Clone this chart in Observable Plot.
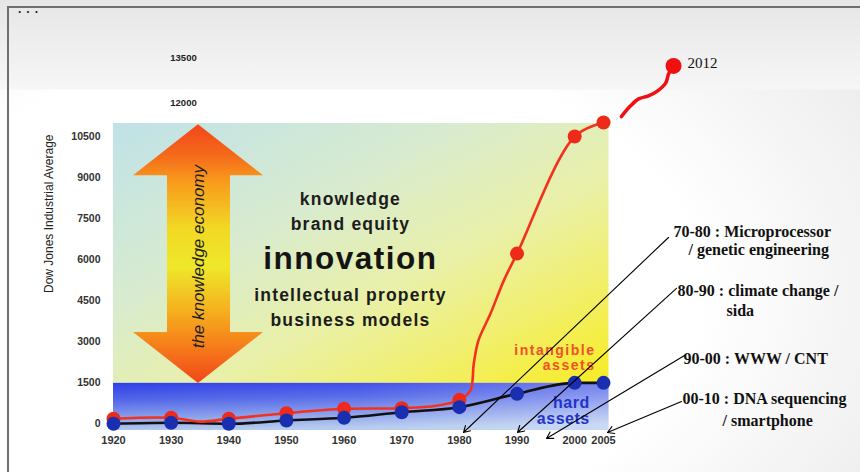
<!DOCTYPE html>
<html><head><meta charset="utf-8">
<script src="https://cdn.jsdelivr.net/npm/d3@7"></script>
<script src="https://cdn.jsdelivr.net/npm/@observablehq/plot@0.6"></script>
<style>
html,body{margin:0;padding:0;background:#fff;}
#wrap{position:relative;width:860px;height:472px;overflow:hidden;
 background:
  linear-gradient(to bottom, #e6e6e6 0px, #f1f1f1 60px, #f6f6f6 89px, rgba(255,255,255,0) 90px),
  radial-gradient(ellipse 80% 90% at 35% 62%, #ffffff 58%, #ebebeb 100%);}
#frame{position:absolute;left:7px;top:6px;right:-5px;bottom:-5px;border-left:2px solid #6e6e6e;border-top:2px solid #6e6e6e;}
#dots{position:absolute;left:18px;top:2px;font:bold 12px "Liberation Sans",Arial,sans-serif;letter-spacing:5px;color:#222;}
#chart svg{position:absolute;left:0;top:0;}
</style></head>
<body>
<div id="wrap"><div id="frame"></div><div id="dots">...</div><div id="chart"></div></div>
<script>
// ---- data ----
const years = [1920,1930,1940,1950,1960,1970,1980,1990,2000,2005];
const intangibleValues = [182,219,182,387,548,570,876,6220,10500,11010];   // red dots
const hardValues = [0,36,0,120,219,424,608,1095,1497,1497];               // blue dots
// red line path (follows the drawn curve between the dots)
const redPathYears  = [1920,1930,1935,1940,1950,1960,1970,1976,1980,1981.9,1982.5,1983.3,1985.4,1987.7,1990,2000,2005];
const redPathValues = [182,219,80,182,387,548,570,660,876,1217,2202,3042,4027,5232,6220,10500,11010];
// hand drawn extension to 2012
const sketchYears  = [2008.1,2009.7,2011.1,2012.8,2014.4,2015.8,2016.3,2017.15];
const sketchValues = [11230,11620,11875,11985,12170,12460,12790,13080];
const sketchLabel = "2012";

const xTicks = [1920,1930,1940,1950,1960,1970,1980,1990,2000,2005];
const yTicks = [0,1500,3000,4500,6000,7500,9000,10500];
const extraTickLabels = ["12000","13500"];
const yTitle = "Dow Jones Industrial Average";

const centerWords = ["knowledge","brand equity","innovation","intellectual property","business models"];
const arrowText = "the knowledge economy";
const intangibleLabel = "intangible\nassets";
const hardLabel = "hard\nassets";

const annLines = ["70-80 : Microprocessor","/ genetic engineering","80-90 : climate change /","sida","90-00 : WWW / CNT","00-10 : DNA sequencing","/ smartphone"];

// ---- layout anchors (in chart units) ----
const centerWordsY = [8215,7302,6024,4684,3772];
const extraTickY = [11729,13372];
const annX = [2017.14,2019.74,2017.84,2026.34,2018.88,2018.7,2025.65];
const annY = [7001,6345,4848,4118,2384,905,102];
const annArrows = [
  {x1:2016.27,y1:6809,x2:1980.71,y2:-318},
  {x1:2017.66,y1:4947,x2:1990.08,y2:-318},
  {x1:2019.05,y1:2494,x2:1995.11,y2:-537},
  {x1:2018.53,y1:815, x2:2005.69,y2:-318}
];
const arrowShapeY  = [10928,9065,9065,3333,3333,1471];
const arrowShapeX1 = [1934.74,1923.47,1929.37,1929.37,1923.47,1934.74];
const arrowShapeX2 = [1934.74,1946.02,1940.3,1940.3,1946.02,1934.74];

const dots = years.map((y,i)=>({year:y, red:intangibleValues[i], blue:hardValues[i]}));
const redPath = redPathYears.map((y,i)=>({year:y, v:redPathValues[i]}));
const sketch = sketchYears.map((y,i)=>({year:y, v:sketchValues[i]}));
const arrowShape = arrowShapeY.map((y,i)=>({y, a:arrowShapeX1[i], b:arrowShapeX2[i]}));

function gradients() {
  const defs = d3.create("svg:defs");
  const lg = (id, x1,y1,x2,y2, stops) => {
    const g = defs.append("linearGradient").attr("id",id).attr("x1",x1).attr("y1",y1).attr("x2",x2).attr("y2",y2);
    stops.forEach(([o,c,op])=>g.append("stop").attr("offset",o).attr("stop-color",c).attr("stop-opacity", op==null?1:op));
  };
  lg("gTop",0,0,1,1,[[0,"#bfe2e8"],[0.35,"#d8ebcf"],[0.6,"#e9f0a8"],[0.8,"#f2ef6a"],[1,"#f7ec22"]]);
  lg("gBot",0,0,0.15,1,[[0,"#2f3fe6"],[0.35,"#5266e8"],[1,"#b3caee"]]);
  lg("gBotOv",0,0,1,0,[[0,"#ffffff",0],[0.5,"#ffffff",0.05],[1,"#ffffff",0.3]]);
  lg("gArrow",0,0,0,1,[[0,"#f2461a"],[0.12,"#f56a1a"],[0.22,"#f89a1c"],[0.4,"#f2d824"],[0.55,"#eee82a"],[0.72,"#f5b01e"],[0.86,"#f67c1a"],[1,"#f0461a"]]);
  return defs.node();
}

const sans = "'Liberation Sans', Arial, sans-serif";
const serif = "'Liberation Serif', 'Times New Roman', serif";

const plot = Plot.plot({
  width: 860, height: 472,
  marginLeft: 113, marginRight: 257, marginTop: 136, marginBottom: 48.7,
  x: {domain: [1920, 2005], label: null},
  y: {domain: [0, 10500], label: null},
  style: {background: "transparent", fontFamily: sans, overflow: "visible"},
  marks: [
    gradients,
    Plot.rect([0], {x1: 1920, x2: 2005.95, y1: 1480, y2: 10973, fill: "url(#gTop)"}),
    Plot.rect([0], {x1: 1920, x2: 2005.95, y1: -245, y2: 1480, fill: "url(#gBot)"}),
    Plot.rect([0], {x1: 1920, x2: 2005.95, y1: -245, y2: 1480, fill: "url(#gBotOv)"}),
    Plot.areaX(arrowShape, {y: "y", x1: "a", x2: "b", fill: "url(#gArrow)", curve: "linear"}),
    Plot.text([arrowText], {x: 1934.74, y: 6108, rotate: -90, fontStyle: "italic", fontSize: 17, fill: "#1e1e1e"}),
    Plot.text(centerWords, {filter: (d,i)=>i!==2, x: 1961.1, y: (d,i)=>centerWordsY[i], fontSize: 17.5, fontWeight: "bold", fill: "#1c1c1c"}),
    Plot.text(centerWords, {filter: (d,i)=>i===2, x: 1961.1, y: (d,i)=>centerWordsY[i], fontSize: 31.5, fontWeight: "bold", fill: "#141414"}),
    Plot.text([intangibleLabel], {x: 2003.6, y: 2420, textAnchor: "end", lineHeight: 1.08, fontSize: 14, fontWeight: "bold", fill: "#f0502a"}),
    Plot.text([hardLabel], {x: 2002.6, y: 486, textAnchor: "end", lineHeight: 1.0, fontSize: 16, fontWeight: "bold", fill: "#2433c8"}),
    Plot.line(dots, {x: "year", y: "blue", stroke: "#111", strokeWidth: 2.6, curve: "monotone-x"}),
    Plot.line(redPath, {x: "year", y: "v", stroke: "#f2321e", strokeWidth: 2.6, curve: "catmull-rom"}),
    Plot.dot(dots, {x: "year", y: "red", r: 7, fill: "#ee2a1a"}),
    Plot.dot(dots, {x: "year", y: "blue", r: 7, fill: "#1a2fb0"}),
    Plot.line(sketch, {x: "year", y: "v", stroke: "#f01010", strokeWidth: 3.5, curve: "catmull-rom"}),
    Plot.dot(sketch.slice(-1), {x: "year", y: "v", r: 8, fill: "#f01010"}),
    Plot.text(sketch.slice(-1), {x: "year", y: "v", text: () => sketchLabel, dx: 14, dy: -3, textAnchor: "start", fontFamily: serif, fontSize: 15, fill: "#111"}),
    Plot.axisY(yTicks, {tickSize: 0, tickPadding: 13, tickFormat: d => String(d), fontWeight: "bold", fontSize: 10.5, fill: "#333", label: null}),
    Plot.axisX(xTicks, {tickSize: 0, tickPadding: 12, tickFormat: d => String(d), fontWeight: "bold", fontSize: 11, fill: "#333", label: null}),
    Plot.text(extraTickLabels, {x: 1932.14, y: (d,i)=>extraTickY[i], fontWeight: "bold", fontSize: 9.5, fill: "#222"}),
    Plot.text([yTitle], {x: 1908.9, y: 7677, rotate: -90, fontSize: 12, fill: "#222"}),
    Plot.text(annLines, {x: (d,i)=>annX[i], y: (d,i)=>annY[i], textAnchor: "start", fontFamily: serif, fontWeight: "bold", fontSize: 16, fill: "#111"}),
    Plot.arrow(annArrows, {x1: "x1", y1: "y1", x2: "x2", y2: "y2", stroke: "#000", strokeWidth: 1.1, headLength: 10})
  ]
});
const s = d3.select(plot);
const spacing = new Map([
  ["knowledge",1.2],["brand equity",1.2],["intellectual property",1.2],["business models",1.2],
  ["innovation",1.5],["intangibleassets",1.5],["hardassets",0.5]
]);
s.selectAll("text").each(function(){
  const k = this.textContent;
  if (spacing.has(k)) d3.select(this).attr("letter-spacing", spacing.get(k));
});
document.getElementById("chart").appendChild(plot);
</script>
</body></html>
